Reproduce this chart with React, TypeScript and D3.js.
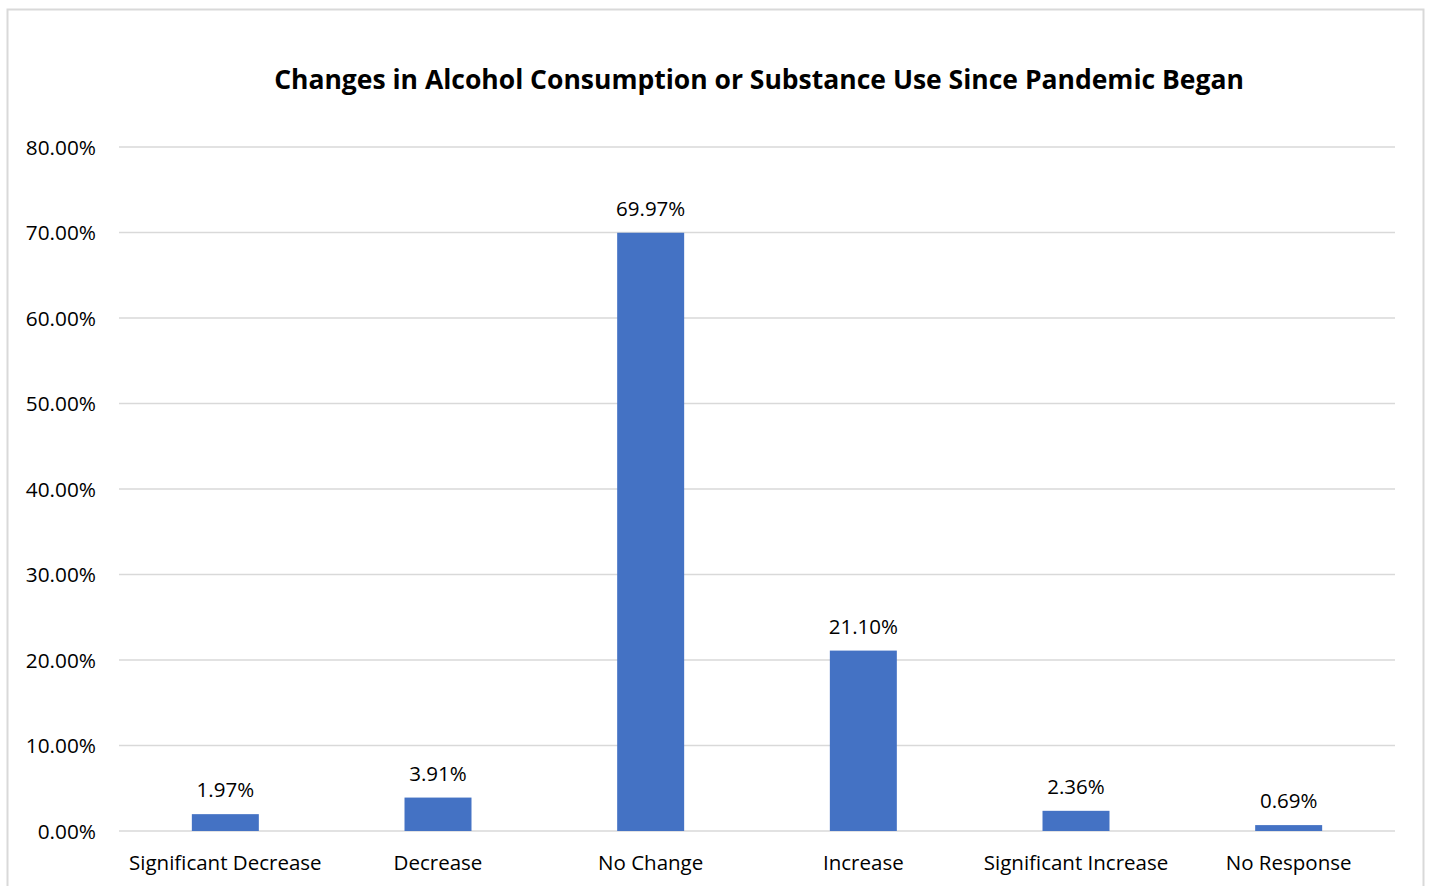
import React from "react";
import * as d3 from "d3";

const categories = ["Significant Decrease", "Decrease", "No Change", "Increase", "Significant Increase", "No Response"];
const values = [1.97, 3.91, 69.97, 21.1, 2.36, 0.69];
const yTicks = [0, 10, 20, 30, 40, 50, 60, 70, 80];
const title = "Changes in Alcohol Consumption or Substance Use Since Pandemic Began";

const W = 1429;
const H = 886;
const FONT = "'Open Sans', sans-serif";

export default function App() {
  const left = 119, right = 1395, top = 147, bottom = 831;
  const x = d3.scaleBand<string>().domain(categories).range([left, right]).paddingInner(0.685).paddingOuter(0.3425);
  const y = d3.scaleLinear().domain([0, 80]).range([bottom, top]);
  const fmt = (v: number) => v.toFixed(2) + "%";
  return (
    <svg width={W} height={H} style={{ position: "absolute", left: 0, top: 0, background: "#fff" }} fontFamily={FONT}>
      <rect x={7.5} y={9.5} width={1416} height={900} fill="#fff" stroke="#d9d9d9" strokeWidth={2} />
      <text x={759} y={89} textAnchor="middle" fontWeight="bold" fontSize={26.5} fill="#000">{title}</text>
      {yTicks.map((t) => (
        <g key={t}>
          <line x1={left} x2={right} y1={y(t)} y2={y(t)} stroke="#d9d9d9" strokeWidth={1.5} />
          <text x={96} y={y(t) + 7.5} textAnchor="end" fontSize={20.8} fill="#000">{fmt(t)}</text>
        </g>
      ))}
      {categories.map((c, i) => {
        const bx = x(c)!;
        const bw = x.bandwidth();
        return (
          <g key={c}>
            <rect x={bx} y={y(values[i])} width={bw} height={y(0) - y(values[i])} fill="#4472c4" />
            <text x={bx + bw / 2} y={y(values[i]) - 17} textAnchor="middle" fontSize={20.5} fill="#000">{fmt(values[i])}</text>
            <text x={bx + bw / 2} y={870} textAnchor="middle" fontSize={20.5} fill="#000">{c}</text>
          </g>
        );
      })}
    </svg>
  );
}
